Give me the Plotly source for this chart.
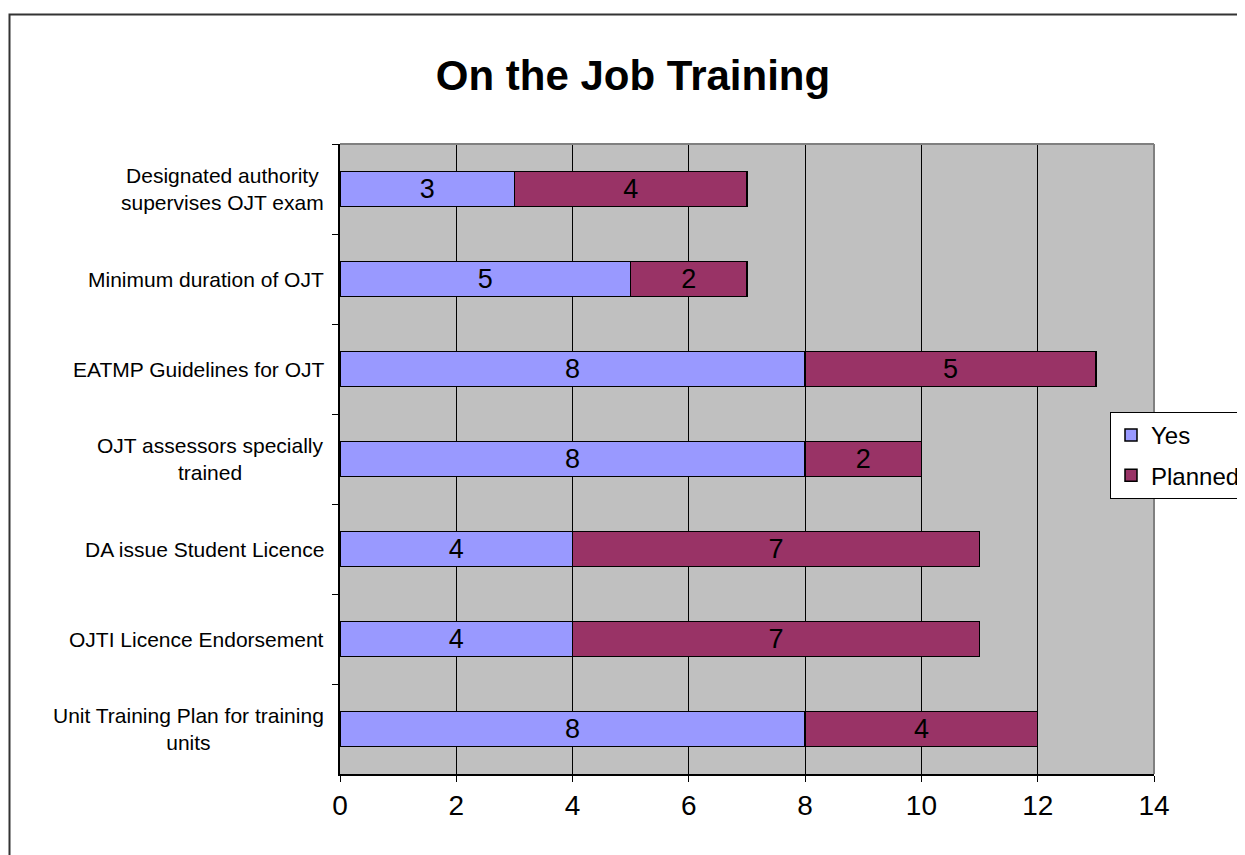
import plotly.graph_objects as go

categories = [
    "Designated authority<br>supervises OJT exam",
    "Minimum duration of OJT",
    "EATMP Guidelines for OJT",
    "OJT assessors specially<br>trained",
    "DA issue Student Licence",
    "OJTI Licence Endorsement",
    "Unit Training Plan for training<br>units",
]
yes_vals = [3, 5, 8, 8, 4, 4, 8]
planned_vals = [4, 2, 5, 2, 7, 7, 4]

# page is shown with an 8px body margin, so positions are shifted by 8
W, H = 1245, 855
L, R, T, B = 332, 1146, 136, 766
pw, ph = R - L, B - T

fig = go.Figure()
for name, vals, col in [("Yes", yes_vals, "#9999FF"), ("Planned", planned_vals, "#993366")]:
    fig.add_trace(go.Bar(
        y=categories, x=vals, name=name, orientation="h", legendgroup=name,
        marker=dict(color=col, line=dict(color="black", width=1.5)),
        text=vals, textposition="inside", insidetextanchor="middle",
        textangle=0, constraintext="none",
        textfont=dict(size=27, color="black", family="Liberation Sans"),
    ))

fig.update_layout(
    width=W, height=H, barmode="stack", bargap=0.61,
    margin=dict(l=L, r=W - R, t=T, b=H - B, autoexpand=False),
    paper_bgcolor="white", plot_bgcolor="#C0C0C0",
    font=dict(family="Liberation Sans", color="black"),
    title=dict(text="<b>On the Job Training</b>", x=625 / W, xanchor="center",
               y=1 - 67 / H, yanchor="middle",
               font=dict(size=42, family="Liberation Sans")),
    showlegend=True,
    legend=dict(x=(1102 - L) / pw, y=1 - (404 - T) / ph, xanchor="left", yanchor="top",
                bgcolor="white", bordercolor="black", borderwidth=1,
                font=dict(size=24), itemwidth=30, traceorder="grouped",
                tracegroupgap=6),
    xaxis=dict(range=[0, 14], dtick=2, showgrid=True, gridcolor="black", gridwidth=1,
               showline=True, linecolor="black", linewidth=1.5,
               ticks="outside", ticklen=6, tickcolor="black",
               tickfont=dict(size=28), zeroline=False, fixedrange=True),
    yaxis=dict(autorange="reversed", showline=True, linecolor="black", linewidth=1.5,
               ticks="outside", ticklen=6, tickcolor="black", tickson="boundaries",
               showticklabels=False, showgrid=False, fixedrange=True),
)

# category labels, centred lines like the original
for c in categories:
    fig.add_annotation(text=c, xref="paper", yref="y", x=0, y=c, xanchor="right",
                       xshift=-14, align="center", showarrow=False,
                       font=dict(size=21, color="black"))

# plot-area border (top and right) and outer chart border
fig.add_shape(type="line", xref="paper", yref="paper", x0=0, x1=1, y0=1, y1=1,
              line=dict(color="#808080", width=2), layer="above")
fig.add_shape(type="line", xref="paper", yref="paper", x0=1, x1=1, y0=0, y1=1,
              line=dict(color="#808080", width=2), layer="above")
fig.add_shape(type="rect", xref="paper", yref="paper",
              x0=(1.5 - L) / pw, x1=(1260 - L) / pw,
              y0=-(870 - B) / ph, y1=1 + (T - 6.5) / ph,
              line=dict(color="#333333", width=2), layer="below")

fig.write_html("out.html")
